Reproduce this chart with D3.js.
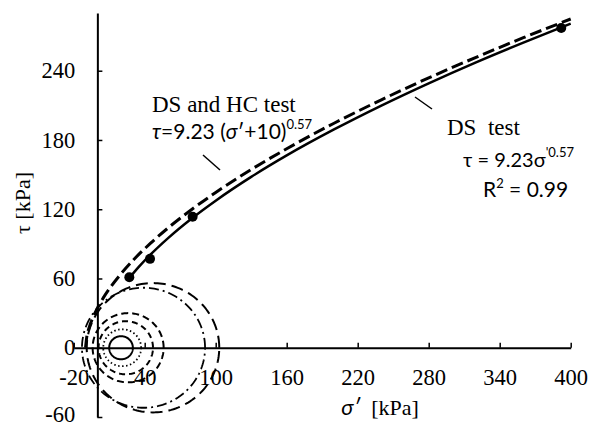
<!DOCTYPE html>
<html>
<head>
<meta charset="utf-8">
<script src="https://cdn.jsdelivr.net/npm/d3@7"></script>
<style>
  html, body { margin: 0; padding: 0; background: #fff; }
  svg { display: block; }
</style>
</head>
<body>
<svg id="chart" width="590" height="428"></svg>
<script>
// ---------------- data ----------------
const xTicks = [-20, 40, 100, 160, 220, 280, 340, 400];
const yTicks = [-60, 0, 60, 120, 180, 240];

// measured points (DS test)
const pointSigma = [27, 44.5, 80.5, 392];
const pointTau   = [61, 77, 113.5, 277];

// DS test fit curve, tau = 9.23 sigma'^0.57
const dsSigma = [27, 35, 45, 60, 80, 100, 130, 160, 200, 240, 280, 320, 360, 400];
const dsTau   = [60.4, 70.0, 80.8, 95.2, 112.2, 127.4, 148.0, 166.6, 189.1, 209.8, 229.1, 247.3, 264.4, 280.8];

// DS and HC test fit curve, tau = 9.23 (sigma'+10)^0.57 (dashed line)
const hcSigma = [-10, -9, -7, -4, 0, 5, 10, 20, 30, 45, 60, 80, 100, 130, 160, 200, 240, 280, 320, 360, 400];
const hcTau   = [0, 9.2, 17.3, 25.6, 34.3, 43.2, 50.9, 64.1, 75.6, 90.6, 104.0, 120.0, 134.5, 154.4, 172.4, 194.5, 214.8, 233.8, 251.6, 268.6, 284.8];

// Mohr circles (HC tests): centre and radius in kPa
const circleCenter = [20, 21, 24, 26, 39, 47];
const circleRadius = [10, 16, 23, 30, 52, 56];

// ---------------- drawing ----------------
const SERIF = '"Liberation Serif", Tinos, "Times New Roman", serif';
const SANS = 'Lato, "Open Sans", "Liberation Sans", sans-serif';

const svg = d3.select("#chart");
const W = 590, H = 428;
svg.append("rect").attr("width", W).attr("height", H).attr("fill", "#fff");

const x = d3.scaleLinear().domain([-20, 400]).range([73.7, 570.7]);
const y = d3.scaleLinear().domain([-60, 290]).range([417, 13]);

// circle styles
const circleDash = ["none", "1.5,2.5", "6,4", "7,4", "10,4,2,4", "12,6"];
const circleWidth = [2, 1.8, 2, 2, 1.8, 2];

const gCircles = svg.append("g");
circleCenter.forEach((c, i) => {
  const r = circleRadius[i];
  const pts = d3.range(0, 361, 2).map(a => {
    const t = a * Math.PI / 180;
    return [c + r * Math.cos(t), r * Math.sin(t)];
  });
  gCircles.append("path")
    .attr("d", d3.line().x(d => x(d[0])).y(d => y(d[1]))(pts))
    .attr("fill", "none")
    .attr("stroke", "#000")
    .attr("stroke-width", circleWidth[i])
    .attr("stroke-dasharray", circleDash[i]);
});

// axes
const fmt = d => d < 0 ? "-" + Math.abs(d) : String(d);
const xAxis = d3.axisBottom(x).tickValues(xTicks).tickSizeInner(-5).tickSizeOuter(0).tickPadding(29).tickFormat(fmt);
const gx = svg.append("g").attr("transform", `translate(0,${y(0)})`).call(xAxis);
gx.attr("font-family", null).attr("font-size", null);
gx.select(".domain").attr("stroke-width", 2);
gx.selectAll(".tick line").attr("stroke-width", 1.5);
gx.selectAll("text").style("font-family", SERIF).style("font-size", "22.5px").attr("fill", "#000").attr("dy", "0.35em");

const yAxis = d3.axisLeft(y).tickValues(yTicks).tickSizeInner(-5).tickSizeOuter(0).tickPadding(22).tickFormat(fmt);
const gy = svg.append("g").attr("transform", `translate(${x(0)},0)`).call(yAxis);
gy.attr("font-family", null).attr("font-size", null);
gy.select(".domain").attr("stroke-width", 2);
gy.selectAll(".tick line").attr("stroke-width", 1.5);
gy.selectAll("text").style("font-family", SERIF).style("font-size", "22.5px").attr("fill", "#000")
  .attr("dy", d => d === -60 ? "0.2em" : "0.32em");

// curves
const line = d3.line().x(d => x(d[0])).y(d => y(d[1])).curve(d3.curveMonotoneX);
svg.append("path")
  .attr("d", line(hcSigma.map((s, i) => [s, hcTau[i]])))
  .attr("fill", "none").attr("stroke", "#000").attr("stroke-width", 3)
  .attr("stroke-dasharray", "12,5");
svg.append("path")
  .attr("d", line(dsSigma.map((s, i) => [s, dsTau[i]])))
  .attr("fill", "none").attr("stroke", "#000").attr("stroke-width", 2.5);

svg.append("g").selectAll("circle").data(pointSigma.map((s, i) => [s, pointTau[i]]))
  .join("circle").attr("cx", d => x(d[0])).attr("cy", d => y(d[1])).attr("r", 5).attr("fill", "#000");

// axis titles
svg.append("text").attr("x", 380).attr("y", 415).attr("text-anchor", "middle")
  .style("font-family", SERIF).style("font-size", "22px")
  .call(t => {
    t.append("tspan").style("font-family", SANS).style("font-style", "italic").text("σ′");
    t.append("tspan").attr("xml:space", "preserve").text("  [kPa]");
  });
svg.append("text").attr("transform", "translate(30,203) rotate(-90)").attr("text-anchor", "middle")
  .style("font-family", SERIF).style("font-size", "22px").text("τ [kPa]");

// annotations
svg.append("text").attr("x", 152).attr("y", 112).style("font-family", SERIF).style("font-size", "23px").text("DS and HC test");
svg.append("text").attr("x", 152).attr("y", 139).style("font-family", SANS).style("font-size", "21px")
  .call(t => {
    t.append("tspan").style("font-style", "italic").text("τ");
    t.append("tspan").text("=9.23 (");
    t.append("tspan").style("font-style", "italic").text("σ");
    t.append("tspan").text("′+10)");
    t.append("tspan").style("font-size", "13px").attr("dy", -10).text("0.57");
  });
svg.append("line").attr("x1", 203).attr("y1", 155).attr("x2", 220).attr("y2", 170).attr("stroke", "#000").attr("stroke-width", 1.5);

svg.append("text").attr("x", 447).attr("y", 135).style("font-family", SERIF).style("font-size", "23px")
  .style("white-space", "pre").attr("xml:space", "preserve").text("DS  test");
svg.append("text").attr("x", 463).attr("y", 167).style("font-family", SANS).style("font-size", "20px")
  .call(t => {
    t.append("tspan").text("τ = 9.23σ");
    t.append("tspan").style("font-size", "13px").attr("dy", -10).text("'0.57");
  });
svg.append("text").attr("x", 483).attr("y", 197).style("font-family", SANS).style("font-size", "21px")
  .call(t => {
    t.append("tspan").text("R");
    t.append("tspan").style("font-size", "13px").attr("dy", -9).text("2");
    t.append("tspan").attr("dy", 9).text(" = 0.99");
  });
svg.append("line").attr("x1", 415).attr("y1", 97).attr("x2", 432).attr("y2", 109).attr("stroke", "#000").attr("stroke-width", 1.5);
</script>
</body>
</html>
